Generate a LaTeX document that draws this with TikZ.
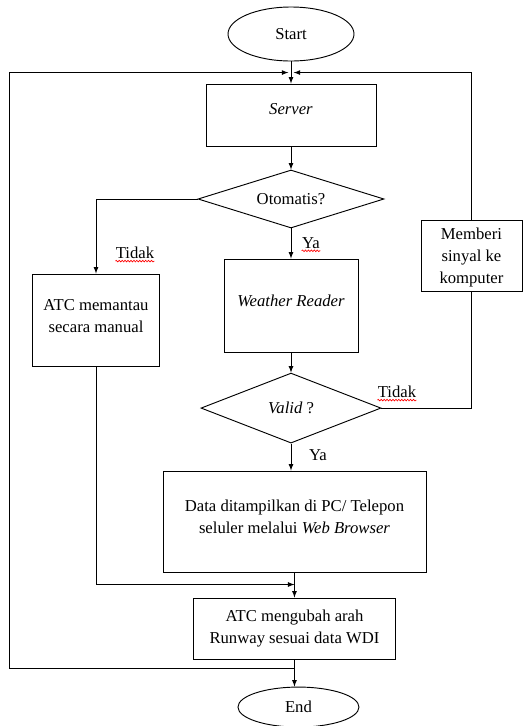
\documentclass[tikz,border=0pt]{standalone}
\usepackage{fontspec}
\setmainfont{Liberation Serif}
\usetikzlibrary{shapes,arrows,decorations.pathmorphing}

\tikzset{
  box/.style={rectangle, draw, align=center, inner sep=2pt},
  decision/.style={diamond, draw, align=center, inner sep=0pt, aspect=3},
  terminal/.style={ellipse, draw, inner sep=0pt},
  lbl/.style={inner sep=0pt},
  squiggle/.style={draw=red, line width=0.5pt, decorate,
    decoration={snake, amplitude=0.6pt, segment length=2.2pt}}
}

\begin{document}
\begin{tikzpicture}[line width=0.7pt,
    every node/.style={font=\fontsize{12.5pt}{16.5pt}\selectfont}]
    \useasboundingbox (0,0) rectangle (392.25pt,-544.5pt);
    \node[terminal, minimum width=94.5pt, minimum height=40.5pt] (Start) at (218.25pt,-25.5pt) {Start};
    \node[box, minimum width=127.5pt, minimum height=46.5pt, text depth=9pt] (Server) [below of=Start, node distance=60.75pt] {\textit{Server}};
    \node[decision, minimum width=139.5pt, minimum height=43.5pt] (Oto) [below of=Server, node distance=63pt] {Otomatis?};
    \node[box, minimum width=100.5pt, minimum height=69.75pt, text depth=6.8pt] (Weather) [below of=Oto, node distance=79.9pt] {\textit{Weather Reader}};
    \node[decision, minimum width=135pt, minimum height=52.5pt] (Valid) [below of=Weather, node distance=76.9pt] {\textit{Valid} ?};
    \node[box, minimum width=197.25pt, minimum height=75.75pt, text depth=7.7pt] (Data) [below of=Valid, node distance=85.1pt, xshift=2.6pt] {Data ditampilkan di PC/ Telepon\\seluler melalui \textit{Web Browser}};
    \node[box, minimum width=151.5pt, minimum height=45.75pt] (Ubah) [below of=Data, node distance=80.25pt] {ATC mengubah arah\\Runway sesuai data WDI};
    \node[terminal, minimum width=90.75pt, minimum height=30pt] (End) [below of=Ubah, node distance=58.9pt, xshift=3pt] {End};
    \node[box, minimum width=95.25pt, minimum height=69pt, text depth=6pt] (Manual) at (72pt,-240pt) {ATC memantau\\secara manual};
    \node[box, minimum width=75.75pt, minimum height=53.25pt, text depth=-1.5pt] (Sinyal) at (353.6pt,-191.6pt) {Memberi\\sinyal ke\\komputer};

    % helper points
    \coordinate (J) at ([yshift=8.25pt]Server.north);
    \coordinate (Lx) at (6.75pt,0pt);
    \coordinate (Lb) at ([yshift=-6.75pt]Ubah.south);
    \coordinate (Mg) at ([yshift=-9pt]Data.south);

    % labels
    \node[lbl] (Tidak1) at (101.25pt,-189.75pt) {Tidak};
    \node[lbl] (Ya1) at (233.25pt,-182.25pt) {Ya};
    \node[lbl] (Tidak2) at (297.75pt,-294pt) {Tidak};
    \node[lbl] (Ya2) at (238.5pt,-341.25pt) {Ya};
    \foreach \t in {Tidak1,Ya1,Tidak2}
      \draw[squiggle] ([yshift=-1.8pt]\t.base west) -- ([yshift=-1.8pt]\t.base east);

    % flow
    \draw[-latex] (Start) -- (Server);
    \draw[-latex] (Server) -- (Oto);
    \draw[-latex] (Oto.west) -| (Manual.north);
    \draw[-latex] (Oto) -- (Weather);
    \draw[-latex] (Weather) -- (Valid);
    \draw (Valid.east) -| (Sinyal.south);
    \draw[-latex] (Sinyal.north) |- ([xshift=2pt]J);
    \draw[-latex] (Valid.south) -- (Valid.south |- Data.north);
    \draw[-latex] (Manual.south) |- (Mg);
    \draw[-latex] (Data) -- (Ubah);
    \draw[-latex] (Ubah.south) -- (Ubah.south |- End.north);
    \draw[-latex] (Lb) -- (Lb -| Lx) |- ([xshift=-2pt]J);
\end{tikzpicture}
\end{document}
